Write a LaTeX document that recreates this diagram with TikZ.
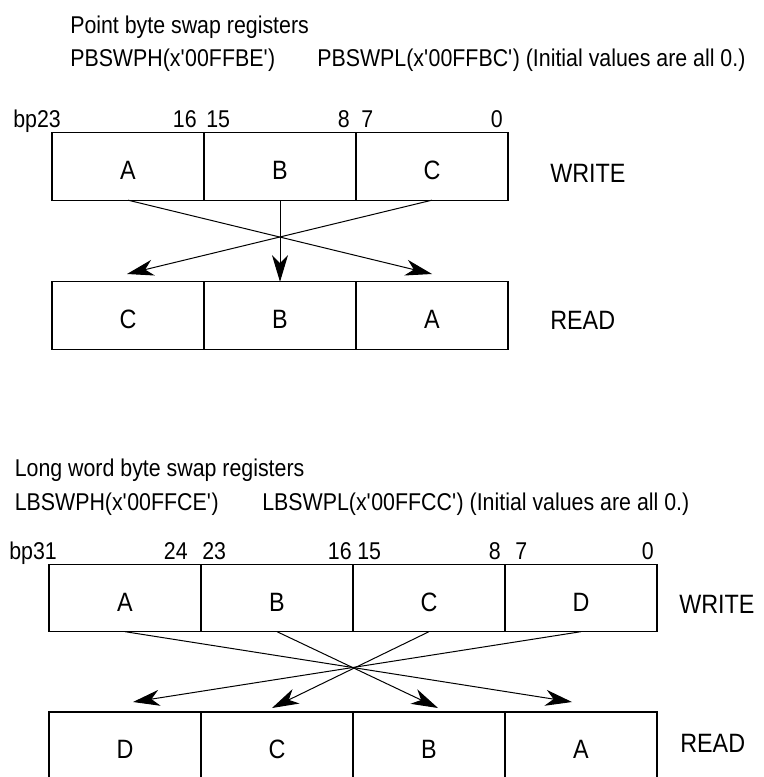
\documentclass[tikz,border=0pt]{standalone}
\usepackage{fontspec}
\setmainfont{Liberation Sans}[FakeStretch=0.88]
\usetikzlibrary{arrows.meta}
\newcommand{\sq}{\textquotesingle}
\begin{document}
\begin{tikzpicture}[x=0.75pt,y=-0.75pt,
  cell/.style={draw,line width=0.9pt,minimum width=114pt,minimum height=50.5pt,
    inner sep=0pt,outer sep=0pt,text height=19.5pt,text depth=0pt,
    font=\fontsize{19.9}{24}\selectfont},
  side/.style={anchor=base west,inner sep=0pt,font=\fontsize{19.9}{24}\selectfont},
  title/.style={anchor=base west,inner sep=0pt,font=\fontsize{18.2}{22}\selectfont},
  bitl/.style={anchor=base west,inner sep=0pt,font=\fontsize{18.2}{22}\selectfont},
  bitr/.style={anchor=base east,inner sep=0pt,font=\fontsize{18.2}{22}\selectfont},
  swap/.style={line width=0.75pt,-{Stealth[length=20pt,width=12pt,inset=6pt]}}]
\useasboundingbox (0,0) rectangle (763,777);
\clip (0,0) rectangle (763,777);

% ---------- Point byte swap ----------
\node[title] (t1) at (70,34) {Point byte swap registers};
\node[title] (t2) at (70,67) {PBSWPH(x\sq00FFBE\sq)};
\node[title] (t3) at (317,67) {PBSWPL(x\sq00FFBC\sq) (Initial values are all 0.)};

\node[bitl] (p23) at (13,128) {bp23};
\node[bitr] (p16) at (197,128) {16};
\node[bitl] (p15) at (206,128) {15};
\node[bitr] (p8)  at (350,128) {8};
\node[bitl] (p7)  at (361,128) {7};
\node[bitr] (p0)  at (503,128) {0};

\node[cell] (wA) at (128,166.5) {A};
\node[cell] (wB) at (280,166.5) {B};
\node[cell] (wC) at (432,166.5) {C};
\node[side] (pw) at (550,183) {WRITE};

\node[cell] (rC) at (128,315.5) {C};
\node[cell] (rB) at (280,315.5) {B};
\node[cell] (rA) at (432,315.5) {A};
\node[side] (pr) at (550,329) {READ};

\coordinate (tipC) at (127,274);
\coordinate (tipA) at (432,274);
\draw[swap] (wA.south) -- (tipA);
\draw[swap] (wC.south) -- (tipC);
\draw[swap] (wB.south) -- (rB.north);

% ---------- Long word byte swap ----------
\node[title] (l1) at (14.5,476) {Long word byte swap registers};
\node[title] (l2) at (14.5,510) {LBSWPH(x\sq00FFCE\sq)};
\node[title] (l3) at (262,510) {LBSWPL(x\sq00FFCC\sq) (Initial values are all 0.)};

\node[bitl] (q31) at (9,559) {bp31};
\node[bitr] (q24) at (188,559) {24};
\node[bitl] (q23) at (202,559) {23};
\node[bitr] (q16) at (352,559) {16};
\node[bitl] (q15) at (357,559) {15};
\node[bitr] (q8)  at (501,559) {8};
\node[bitl] (q7)  at (515,559) {7};
\node[bitr] (q0)  at (654,559) {0};

\node[cell] (WA) at (125,598) {A};
\node[cell] (WB) at (277,598) {B};
\node[cell] (WC) at (429,598) {C};
\node[cell] (WD) at (581,598) {D};
\node[side] (lw) at (679,613) {WRITE};

\node[cell] (RD) at (125,745.7) {D};
\node[cell] (RC) at (277,745.7) {C};
\node[cell] (RB) at (429,745.7) {B};
\node[cell] (RA) at (581,745.7) {A};
\node[side] (lr) at (680,752) {READ};

\coordinate (TD) at (133,702);
\coordinate (TC) at (272,708);
\coordinate (TB) at (438,708);
\coordinate (TA) at (572,702);
\draw[swap] (WA.south) -- (TA);
\draw[swap] (WB.south) -- (TB);
\draw[swap] (WC.south) -- (TC);
\draw[swap] (WD.south) -- (TD);
\end{tikzpicture}
\end{document}
